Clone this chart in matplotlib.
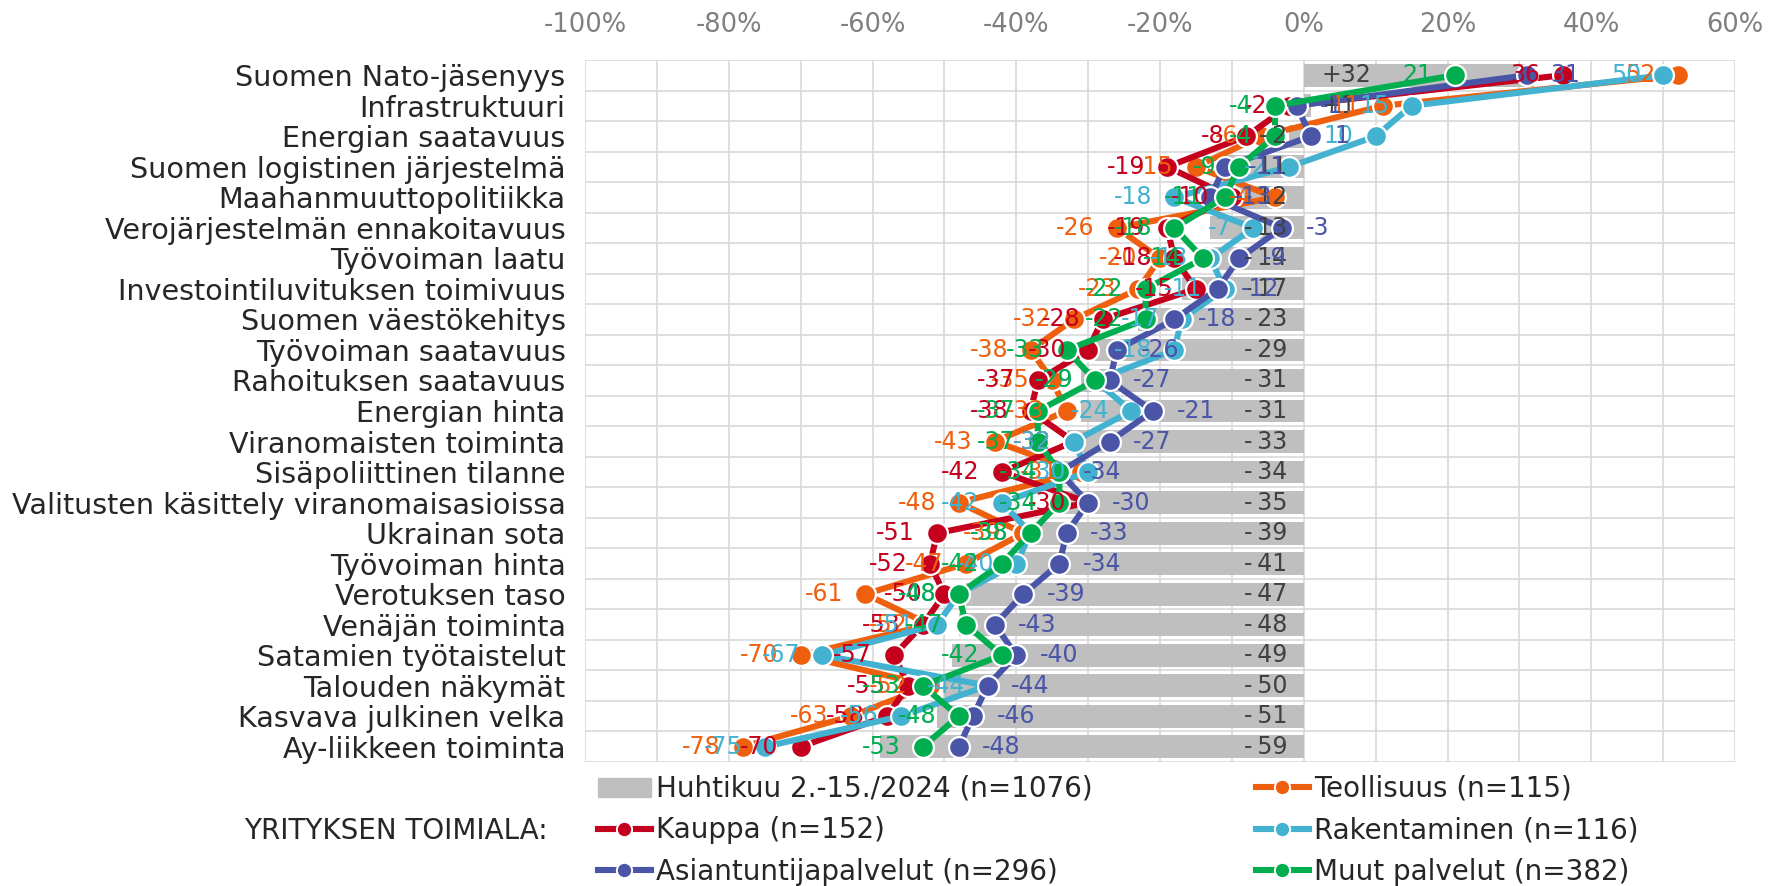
import numpy as np
import matplotlib
matplotlib.use("Agg")
import matplotlib.pyplot as plt
from matplotlib.lines import Line2D
from matplotlib.patches import Patch

categories = [
    "Suomen Nato-jäsenyys", "Infrastruktuuri", "Energian saatavuus",
    "Suomen logistinen järjestelmä", "Maahanmuuttopolitiikka",
    "Verojärjestelmän ennakoitavuus", "Työvoiman laatu",
    "Investointiluvituksen toimivuus", "Suomen väestökehitys",
    "Työvoiman saatavuus", "Rahoituksen saatavuus", "Energian hinta",
    "Viranomaisten toiminta", "Sisäpoliittinen tilanne",
    "Valitusten käsittely viranomaisasioissa", "Ukrainan sota",
    "Työvoiman hinta", "Verotuksen taso", "Venäjän toiminta",
    "Satamien työtaistelut", "Talouden näkymät", "Kasvava julkinen velka",
    "Ay-liikkeen toiminta",
]
huhtikuu = [32, 1, -2, -11, -12, -13, -14, -17, -23, -29, -31, -31, -33, -34,
            -35, -39, -41, -47, -48, -49, -50, -51, -59]
teollisuus = [52, 11, -6, -15, -4, -26, -20, -23, -32, -38, -35, -33, -43, -31,
              -48, -39, -47, -61, -52, -70, -52, -63, -78]
kauppa = [36, -2, -8, -19, -10, -19, -18, -15, -28, -30, -37, -38, -32, -42,
          -30, -51, -52, -50, -53, -57, -55, -58, -70]
rakentaminen = [50, 15, 10, -2, -18, -7, -13, -11, -17, -18, -29, -24, -32, -30,
                -42, -38, -40, -48, -51, -67, -44, -56, -75]
asiantuntija = [31, -1, 1, -11, -13, -3, -9, -12, -18, -26, -27, -21, -27, -34,
                -30, -33, -34, -39, -43, -40, -44, -46, -48]
muut = [21, -4, -4, -9, -11, -18, -14, -22, -22, -33, -29, -37, -37, -34,
        -34, -38, -42, -48, -47, -42, -53, -48, -53]

x_ticks = [-100, -90, -80, -70, -60, -50, -40, -30, -20, -10, 0, 10, 20, 30, 40, 50, 60]
x_ticklabels = ["-100%", "", "-80%", "", "-60%", "", "-40%", "", "-20%", "",
                "0%", "", "20%", "", "40%", "", "60%"]

names = {
    "bar": "Huhtikuu 2.-15./2024 (n=1076)",
    "teo": "Teollisuus (n=115)",
    "kau": "Kauppa (n=152)",
    "rak": "Rakentaminen (n=116)",
    "asi": "Asiantuntijapalvelut (n=296)",
    "muu": "Muut palvelut (n=382)",
}

C_BAR = "#BFBFBF"
C_TEO = "#EE5F0E"
C_KAU = "#C4001E"
C_RAK = "#43B2D1"
C_ASI = "#4A55A8"
C_MUU = "#00AE4F"
GRID = "#D9D9D9"

W, H = 1770, 886
fig = plt.figure(figsize=(W / 100, H / 100), dpi=100)
x0, x1, ytop, ybot = 585, 1735, 60, 762
ax = fig.add_axes([x0 / W, 1 - ybot / H, (x1 - x0) / W, (ybot - ytop) / H])

n = len(categories)
y = np.arange(n)

ax.barh(y, huhtikuu, height=0.75, color=C_BAR, zorder=2)

LABEL_FS = 17
for v, yy in zip(huhtikuu, y):
    if v >= 0:
        txt, dx, ha = f"+{v}", 13, "left"
    else:
        txt, dx, ha = f"-\u2009{abs(v)}", -12, "right"
    ax.annotate(txt, (0, yy), xytext=(dx, 0), textcoords="offset points",
                ha=ha, va="center", color="#404040", fontsize=LABEL_FS, zorder=20)

series = [
    (teollisuus, C_TEO, "teo", "left"),
    (kauppa, C_KAU, "kau", "left"),
    (rakentaminen, C_RAK, "rak", "left"),
    (asiantuntija, C_ASI, "asi", "right"),
    (muut, C_MUU, "muu", "left"),
]
handles = {}
for i, (vals, col, key, side) in enumerate(series):
    ax.plot(vals, y, color=col, lw=4.4, marker="o", ms=15, mfc=col,
            mec="white", mew=1.6, zorder=5 + i, solid_joinstyle="round",
            solid_capstyle="round")
    handles[key] = Line2D([], [], color=col, lw=4.4, marker="o", ms=11,
                          mfc=col, mec="white", mew=1.4)
    for v, yy in zip(vals, y):
        if side == "left":
            dx, ha = -16, "right"
        else:
            dx, ha = 17, "left"
        ax.annotate(f"{v}", (v, yy), xytext=(dx, 0), textcoords="offset points",
                    ha=ha, va="center", color=col, fontsize=LABEL_FS, zorder=20 + i)

ax.set_xlim(-100, 60)
ax.set_ylim(n - 0.5, -0.5)
ax.set_xticks(x_ticks)
ax.set_xticklabels(x_ticklabels)
ax.xaxis.tick_top()
ax.tick_params(axis="x", length=0, pad=16, labelsize=18.5, labelcolor="#7F7F7F")
ax.set_yticks(y)
ax.set_yticklabels(categories)
ax.tick_params(axis="y", length=0, pad=14, labelsize=20.6, labelcolor="#262626")
ax.set_yticks(np.arange(-0.5, n, 1), minor=True)
ax.tick_params(axis="y", which="minor", length=0)
ax.grid(axis="x", color=GRID, lw=1.2, zorder=0)
ax.grid(axis="y", which="minor", color=GRID, lw=1.2, zorder=0)
ax.set_axisbelow(True)
for s in ax.spines.values():
    s.set_visible(False)

LEG_FS = 20
common = dict(frameon=False, fontsize=LEG_FS, handlelength=1.9, handletextpad=0.2,
              labelspacing=0.48, borderpad=0, borderaxespad=0, labelcolor="#262626")
fig.legend([Patch(color=C_BAR), handles["kau"], handles["asi"]],
           [names["bar"], names["kau"], names["asi"]],
           loc="upper left", bbox_to_anchor=(598 / W, 1 - 775 / H), **common)
fig.legend([handles["teo"], handles["rak"], handles["muu"]],
           [names["teo"], names["rak"], names["muu"]],
           loc="upper left", bbox_to_anchor=(1256 / W, 1 - 775 / H), **common)
fig.text(548 / W, 1 - 831 / H, "YRITYKSEN TOIMIALA:", ha="right", va="center",
         fontsize=20, color="#262626")

fig.savefig("out.png", dpi=100)
